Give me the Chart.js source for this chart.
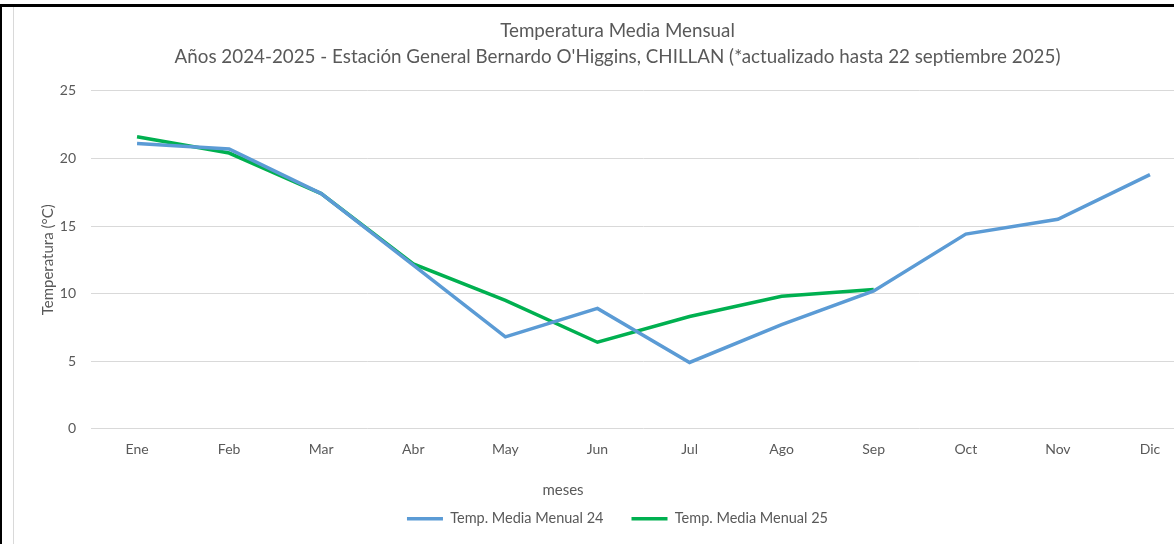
<!DOCTYPE html>
<html>
<head>
<meta charset="utf-8">
<script src="https://cdn.jsdelivr.net/npm/chart.js@4.4.1/dist/chart.umd.min.js"></script>
<style>
  html, body { margin: 0; padding: 0; background: #ffffff; overflow: hidden; }
  #edgeTop { position: absolute; left: 0; top: 4px; width: 1174px; height: 3px; background: #000; }
  #edgeLeft { position: absolute; left: 0; top: 4px; width: 2px; height: 540px; background: #000; }
  #frame { position: absolute; left: 13px; top: 7px; width: 1px; height: 537px; background: #d9d9d9; }
  #wrap { position: absolute; left: 14px; top: 7px; width: 1201px; height: 537px; }
</style>
</head>
<body>
<div id="edgeTop"></div>
<div id="edgeLeft"></div>
<div id="frame"></div>
<div id="wrap"><canvas id="tempchart"></canvas></div>
<script>
'use strict'

var meses = ['Ene', 'Feb', 'Mar', 'Abr', 'May', 'Jun', 'Jul', 'Ago', 'Sep', 'Oct', 'Nov', 'Dic'];
var temp24 = [21.1, 20.7, 17.4, 12.1, 6.8, 8.9, 4.9, 7.7, 10.2, 14.4, 15.5, 18.8];
var temp25 = [21.6, 20.4, 17.4, 12.2, 9.5, 6.4, 8.3, 9.8, 10.3];
var yTicks = [0, 5, 10, 15, 20, 25];

var grey = '#595959';
var fontName = 'Lato';

/* x axis title, placed where the original has it */
var mesesLabel = {
    id: 'mesesLabel',
    afterDraw: function (chart) {
        var ctx = chart.ctx;
        ctx.save();
        ctx.fillStyle = grey;
        ctx.font = '15px ' + fontName;
        ctx.textAlign = 'center';
        ctx.textBaseline = 'middle';
        ctx.fillText('meses', 549, 483);
        ctx.restore();
    }
};

var ctx = document.getElementById('tempchart').getContext('2d');
var tempchart = new Chart(ctx, {
    type: 'line',
    data: {
        labels: meses,
        datasets: [{
            label: 'Temp. Media Menual 24',
            data: temp24,
            borderColor: '#5b9bd5',
            backgroundColor: '#5b9bd5',
            borderWidth: 3.5,
            pointRadius: 0,
            tension: 0,
        }, {
            label: 'Temp. Media Menual 25',
            data: temp25,
            borderColor: '#00b050',
            backgroundColor: '#00b050',
            borderWidth: 3.5,
            pointRadius: 0,
            tension: 0,
        }]
    },
    options: {
        responsive: true,
        maintainAspectRatio: false,
        animation: false,
        layout: {
            padding: { left: 25, right: 19, top: 0, bottom: 8 }
        },
        plugins: {
            title: {
                display: true,
                text: ['Temperatura Media Mensual', "Años 2024-2025 - Estación General Bernardo O'Higgins, CHILLAN (*actualizado hasta 22 septiembre 2025)"],
                color: grey,
                font: { family: fontName, size: 18.8, weight: 'normal', lineHeight: 1.38 },
                padding: { top: 11, bottom: 21 }
            },
            legend: {
                display: true,
                position: 'bottom',
                labels: {
                    color: grey,
                    font: { family: fontName, size: 14.5 },
                    usePointStyle: true,
                    pointStyle: 'line',
                    pointStyleWidth: 36,
                    boxHeight: 3,
                    padding: 28
                }
            },
            tooltip: { enabled: false }
        },
        scales: {
            y: {
                min: 0,
                max: 25,
                afterBuildTicks: function (scale) {
                    scale.ticks = yTicks.map(function (v) { return { value: v }; });
                },
                afterFit: function (scale) {
                    scale.width = 52;
                },
                ticks: {
                    color: grey,
                    font: { family: fontName, size: 14 },
                    padding: 15
                },
                grid: {
                    color: '#d9d9d9',
                    lineWidth: 1,
                    drawTicks: false
                },
                border: { display: false },
                title: {
                    display: true,
                    text: 'Temperatura (°C)',
                    color: grey,
                    font: { family: fontName, size: 15 },
                    padding: { top: 0, bottom: 8 }
                }
            },
            x: {
                offset: true,
                ticks: {
                    color: grey,
                    font: { family: fontName, size: 14 },
                    padding: 12
                },
                grid: {
                    display: false,
                    drawTicks: false
                },
                border: { display: false },
                title: {
                    display: true,
                    text: ' ',
                    font: { family: fontName, size: 10 },
                    padding: { top: 2, bottom: 0 }
                }
            }
        }
    },
    plugins: [mesesLabel]
});
</script>
</body>
</html>
